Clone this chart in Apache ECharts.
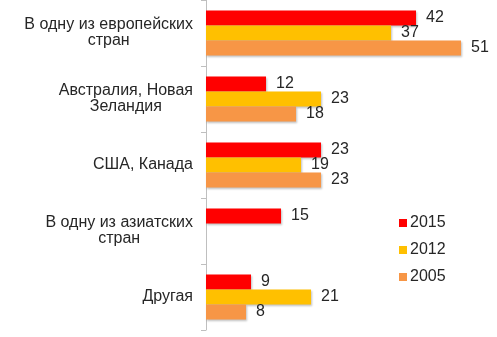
<!DOCTYPE html>
<html>
<head>
<meta charset="utf-8">
<script src="https://cdn.jsdelivr.net/npm/echarts@6/dist/echarts.min.js"></script>
<style>
  html, body { margin: 0; padding: 0; background: #fff; }
  #chart { width: 497px; height: 337px; }
</style>
</head>
<body>
<div id="chart"></div>
<script>
// Destination categories (line breaks as drawn)
const categories = [
  'В одну из европейских\nстран',
  'Австралия, Новая\nЗеландия',
  'США, Канада',
  'В одну из азиатских\nстран',
  'Другая'
];
const years = ['2015', '2012', '2005'];
const values2015 = [42, 12, 23, 15, 9];
const values2012 = [37, 23, 19, null, 21];
const values2005 = [51, 18, 23, null, 8];

const colors = ['#FF0000', '#FFC000', '#F79646'];
const seriesValues = [values2015, values2012, values2005];

const FONT_FAMILY = '"Liberation Sans", Arial, sans-serif';

const chart = echarts.init(document.getElementById('chart'));

chart.setOption({
  animation: false,
  textStyle: { fontFamily: FONT_FAMILY },
  grid: { left: 206, top: 0, bottom: 7, width: 275 },
  xAxis: {
    type: 'value', min: 0, max: 55,
    show: false
  },
  yAxis: {
    type: 'category',
    data: categories,
    inverse: true,
    axisLine: { lineStyle: { color: '#BFBFBF', width: 1 } },
    axisTick: { show: true, length: 5, lineStyle: { color: '#BFBFBF' } },
    axisLabel: {
      margin: 13,
      color: '#262626',
      fontSize: 16,
      fontFamily: FONT_FAMILY,
      // every line is a centred token, so short lines sit under the long one
      formatter: function (v) {
        return v.split('\n').map(function (l) { return '{c|' + l + '}'; }).join('\n');
      },
      rich: { c: { align: 'center', fontSize: 16, color: '#262626', fontFamily: FONT_FAMILY } }
    }
  },
  legend: {
    orient: 'vertical',
    left: 394,
    top: 210,
    itemWidth: 8,
    itemHeight: 8,
    itemGap: 11,
    icon: 'rect',
    textStyle: { fontSize: 16, color: '#262626', padding: [0, 0, 0, -2] },
    data: years
  },
  series: years.map(function (y, i) {
    return {
      name: y,
      type: 'bar',
      data: seriesValues[i],
      barWidth: 15,
      barGap: '0%',
      itemStyle: {
        color: colors[i],
        shadowBlur: 2,
        shadowOffsetX: 1,
        shadowOffsetY: 1,
        shadowColor: 'rgba(0,0,0,0.25)'
      },
      label: {
        show: true,
        position: 'right',
        distance: 10,
        fontSize: 16,
        color: '#262626'
      }
    };
  })
});
</script>
</body>
</html>
